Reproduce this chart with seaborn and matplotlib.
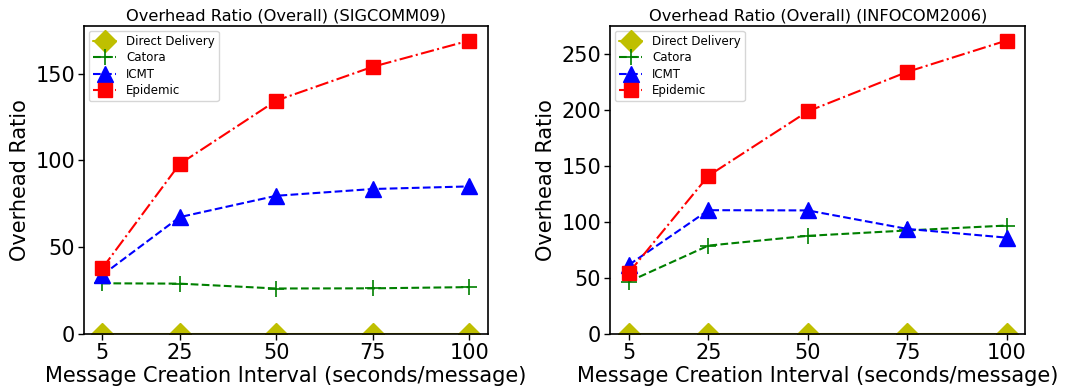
import matplotlib
matplotlib.use("Agg")
import matplotlib.pyplot as plt
import seaborn as sns
import pandas as pd

intervals = [5, 25, 50, 75, 100]
series_names = ["Direct Delivery", "Catora", "ICMT", "Epidemic"]

sig_direct = [0, 0, 0, 0, 0]
sig_catora = [29.2, 29.0, 26.2, 26.3, 27.0]
sig_icmt = [34.0, 67.3, 79.6, 83.5, 85.0]
sig_epidemic = [37.9, 97.9, 134.4, 153.9, 169.0]

inf_direct = [0, 0, 0, 0, 0]
inf_catora = [46.8, 78.9, 87.6, 92.4, 96.8]
inf_icmt = [61.7, 110.5, 110.3, 93.8, 86.0]
inf_epidemic = [54.8, 141.2, 198.7, 233.9, 261.9]

titles = ["Overhead Ratio (Overall) (SIGCOMM09)", "Overhead Ratio (Overall) (INFOCOM2006)"]
yticks_list = [[0, 50, 100, 150], [0, 50, 100, 150, 200, 250]]

styles = {
    "Direct Delivery": dict(color="y", marker="D", linestyle="-", markersize=11, mew=1),
    "Catora": dict(color="g", marker="+", linestyle="--", markersize=11, mew=1.2),
    "ICMT": dict(color="b", marker="^", linestyle="--", markersize=11, mew=1),
    "Epidemic": dict(color="r", marker="s", linestyle="-.", markersize=10, mew=1),
}

sns.set_style("ticks", {"text.color": "black", "axes.labelcolor": "black",
                        "xtick.color": "black", "ytick.color": "black",
                        "axes.edgecolor": "black"})
plt.rcParams['font.family'] = ['DejaVu Sans']

fig = plt.figure(figsize=(10.65, 3.91), dpi=100)
ax1 = fig.add_axes([0.0789, 0.1458, 0.379, 0.788])
ax2 = fig.add_axes([0.5728, 0.1458, 0.390, 0.788])

datasets = [
    [sig_direct, sig_catora, sig_icmt, sig_epidemic],
    [inf_direct, inf_catora, inf_icmt, inf_epidemic],
]

for ax, data, title, yt in zip([ax1, ax2], datasets, titles, yticks_list):
    for name, vals in zip(series_names, data):
        st = styles[name]
        df = pd.DataFrame({"x": intervals, "y": vals})
        sns.lineplot(data=df, x="x", y="y", ax=ax, label=name,
                     color=st["color"], marker=st["marker"], linestyle=st["linestyle"],
                     markersize=st["markersize"], markeredgecolor=st["color"],
                     markeredgewidth=st["mew"], linewidth=1.5, clip_on=True)
    ax.set_ylim(bottom=0)
    ax.set_yticks(yt)
    ax.set_xticks(intervals)
    ax.set_title(title, fontsize=11.7, color="black", pad=4)
    ax.set_xlabel("Message Creation Interval (seconds/message)", fontsize=15, labelpad=2)
    ax.set_ylabel("Overhead Ratio", fontsize=15, labelpad=4)
    ax.tick_params(axis="both", labelsize=15, length=4.5, width=1, color="black", pad=2)
    for sp in ax.spines.values():
        sp.set_color("black")
        sp.set_linewidth(1.2)
    ax.legend(loc="upper left", fontsize=8.5, frameon=True, handlelength=2, borderpad=0.35,
              labelspacing=0.3, handletextpad=0.8, borderaxespad=0.4)

fig.savefig("out.png", dpi=100)
